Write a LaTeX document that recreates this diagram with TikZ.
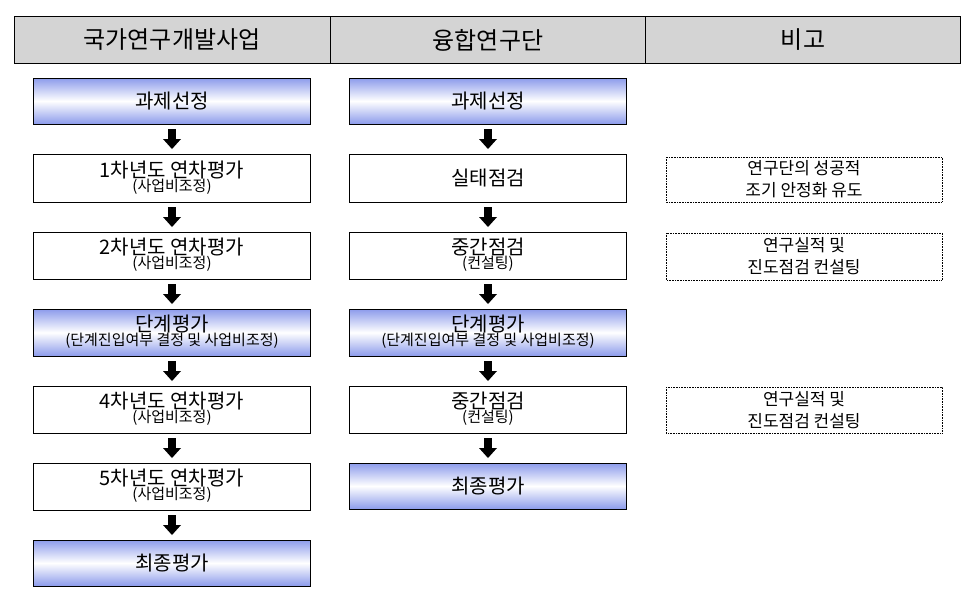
\documentclass[tikz,border=0pt]{standalone}
\usepackage{fontspec}
\setmainfont{Noto Sans CJK KR}
\definecolor{bl}{RGB}{140,155,235}
\definecolor{hg}{RGB}{212,212,212}
\begin{document}
\begin{tikzpicture}[x=1pt,y=-1pt,
  hdr/.style={draw,fill=hg,line width=1pt},
  wbox/.style={draw,line width=0.8pt,fill=white},
  bbox/.style={draw,line width=0.8pt,top color=bl,bottom color=bl,middle color=white},
  nbox/.style={draw,densely dotted,line width=0.6pt},
  big/.style={font=\fontsize{20}{22}\selectfont},
  two/.style={align=center,inner sep=0pt}]
\useasboundingbox (0,0) rectangle (974,600);
\draw[hdr] (14,16) rectangle (960,63);
\draw[line width=1pt] (330,16)--(330,63) (645,16)--(645,63);
\node[font=\fontsize{24}{26}\selectfont] (h1) at (172,40) {국가연구개발사업};
\node[font=\fontsize{24}{26}\selectfont] (h2) at (488,40) {융합연구단};
\node[font=\fontsize{24}{26}\selectfont] (h3) at (803,40) {비고};
\def\arr#1#2{\fill (#1-4,#2) rectangle (#1+4,#2+10); \fill (#1-9,#2+10)--(#1+9,#2+10)--(#1,#2+20)--cycle;}
\def\tw#1#2{\fontsize{20}{20}\selectfont #1\\[-1pt]\fontsize{15}{15}\selectfont #2}
\path[bbox] (33,78) rectangle (310,124);
\node[big] (l1) at (172,101) {과제선정};
\path[wbox] (33,154) rectangle (310,202);
\node[two] (l2) at (172,178) {\tw{1차년도 연차평가}{(사업비조정)}};
\path[wbox] (33,232) rectangle (310,279);
\node[two] (l3) at (172,255) {\tw{2차년도 연차평가}{(사업비조정)}};
\path[bbox] (33,309) rectangle (310,356);
\node[two] (l4) at (172,332) {\tw{단계평가}{(단계진입여부 결정 및 사업비조정)}};
\path[wbox] (33,386) rectangle (310,433);
\node[two] (l5) at (172,409) {\tw{4차년도 연차평가}{(사업비조정)}};
\path[wbox] (33,463) rectangle (310,510);
\node[two] (l6) at (172,486) {\tw{5차년도 연차평가}{(사업비조정)}};
\path[bbox] (33,540) rectangle (310,586);
\node[big] (l7) at (172,563) {최종평가};
\path[bbox] (349,78) rectangle (626,124);
\node[big] (m1) at (488,101) {과제선정};
\path[wbox] (349,154) rectangle (626,202);
\node[big] (m2) at (488,178) {실태점검};
\path[wbox] (349,232) rectangle (626,279);
\node[two] (m3) at (488,255) {\tw{중간점검}{(컨설팅)}};
\path[bbox] (349,309) rectangle (626,356);
\node[two] (m4) at (488,332) {\tw{단계평가}{(단계진입여부 결정 및 사업비조정)}};
\path[wbox] (349,386) rectangle (626,433);
\node[two] (m5) at (488,409) {\tw{중간점검}{(컨설팅)}};
\path[bbox] (349,463) rectangle (626,509);
\node[big] (m6) at (488,486) {최종평가};
\draw[nbox] (666,157) rectangle (942,202);
\node[two,font=\fontsize{17}{22}\selectfont] (n1) at (804,179) {연구단의 성공적\\조기 안정화 유도};
\draw[nbox] (666,233) rectangle (942,280);
\node[two,font=\fontsize{17}{22}\selectfont] (n2) at (804,256) {연구실적 및\\진도점검 컨설팅};
\draw[nbox] (666,387) rectangle (942,433);
\node[two,font=\fontsize{17}{22}\selectfont] (n3) at (804,410) {연구실적 및\\진도점검 컨설팅};
\foreach \y in {129,207,284,361,438,515} {\arr{172}{\y}}
\foreach \y in {129,207,284,361,438} {\arr{488}{\y}}
\end{tikzpicture}
\end{document}
